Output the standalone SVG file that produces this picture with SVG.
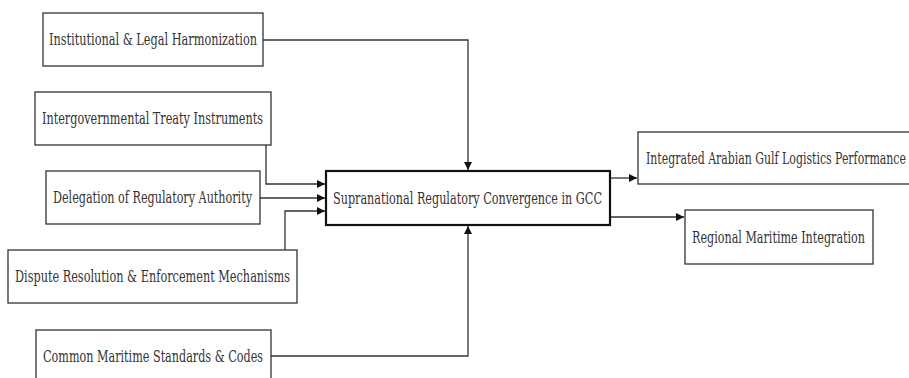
<svg xmlns="http://www.w3.org/2000/svg" width="909" height="378" viewBox="0 0 909 378">
<style>
.box{fill:#fff;stroke:#333;stroke-width:1.3}
.main{fill:#fff;stroke:#111;stroke-width:2.2}
.lbl{font-family:"DejaVu Serif Condensed","DejaVu Serif","Liberation Serif",serif;font-size:17px;fill:#333}
.ln{fill:none;stroke:#333;stroke-width:1.3}
</style>
<defs>
<marker id="ah" viewBox="0 0 10 10" refX="10" refY="5" markerWidth="8" markerHeight="8" markerUnits="userSpaceOnUse" orient="auto">
<path d="M0,0 L10,5 L0,10 z" fill="#111"/>
</marker>
</defs>
<rect width="909" height="378" fill="#fff"/>
<g id="connectors">
<path class="ln" d="M263,40 H468 V170" marker-end="url(#ah)"/>
<path class="ln" d="M266,145 V184 H325" marker-end="url(#ah)"/>
<path class="ln" d="M260,198 H325" marker-end="url(#ah)"/>
<path class="ln" d="M285,250 V211 H325" marker-end="url(#ah)"/>
<path class="ln" d="M271,356 H468 V226" marker-end="url(#ah)"/>
<path class="ln" d="M610,178 H637" marker-end="url(#ah)"/>
<path class="ln" d="M610,217 H684" marker-end="url(#ah)"/>
</g>
<g id="n1"><rect class="box" x="43" y="13" width="220" height="53"/><text class="lbl" x="49" y="45" textLength="208" lengthAdjust="spacingAndGlyphs">Institutional &amp; Legal Harmonization</text></g>
<g id="n2"><rect class="box" x="35" y="92" width="236" height="53"/><text class="lbl" x="42" y="124" textLength="221" lengthAdjust="spacingAndGlyphs">Intergovernmental Treaty Instruments</text></g>
<g id="n3"><rect class="box" x="46" y="171" width="214" height="53"/><text class="lbl" x="53" y="203" textLength="199" lengthAdjust="spacingAndGlyphs">Delegation of Regulatory Authority</text></g>
<g id="n4"><rect class="box" x="8" y="250" width="289" height="53"/><text class="lbl" x="15" y="282" textLength="275" lengthAdjust="spacingAndGlyphs">Dispute Resolution &amp; Enforcement Mechanisms</text></g>
<g id="n5"><rect class="box" x="36" y="330" width="235" height="53"/><text class="lbl" x="43" y="362" textLength="220" lengthAdjust="spacingAndGlyphs">Common Maritime Standards &amp; Codes</text></g>
<g id="center"><rect class="main" x="326" y="171" width="284" height="54"/><text class="lbl" x="333" y="204" textLength="269" lengthAdjust="spacingAndGlyphs">Supranational Regulatory Convergence in GCC</text></g>
<g id="out1"><rect class="box" x="638" y="132" width="290" height="52"/><text class="lbl" transform="translate(646,164) scale(0.72,1)" x="0" y="0" textLength="361" lengthAdjust="spacingAndGlyphs">Integrated Arabian Gulf Logistics Performance</text></g>
<g id="out2"><rect class="box" x="685" y="210" width="188" height="54"/><text class="lbl" transform="translate(692,243) scale(0.73,1)" x="0" y="0" textLength="237" lengthAdjust="spacingAndGlyphs">Regional Maritime Integration</text></g>
</svg>
